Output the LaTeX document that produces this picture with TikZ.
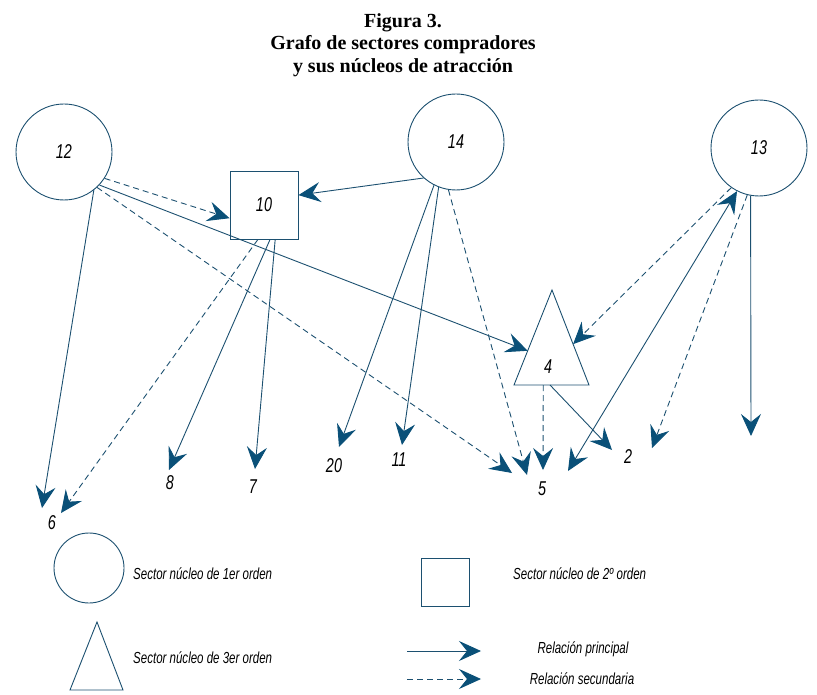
\documentclass[tikz,border=0pt]{standalone}
\usepackage{fontspec}
\setmainfont{Liberation Serif}
\newfontfamily\condfont[FakeStretch=0.72]{Liberation Sans}
\usetikzlibrary{arrows.meta,calc}
\definecolor{lb}{RGB}{28,80,112}
\definecolor{ab}{RGB}{10,80,120}
\begin{document}
\begin{tikzpicture}[x=1pt,y=-1pt,
  tipst/.style={-{Stealth[length=22pt,width=20pt,inset=8pt,color=ab]}},
  rel/.style={draw=lb, line width=0.9pt, tipst},
  sec/.style={rel, dash pattern=on 6pt off 4pt},
  both/.style={draw=lb, line width=0.9pt, {Stealth[length=22pt,width=20pt,inset=8pt,color=ab]}-{Stealth[length=22pt,width=20pt,inset=8pt,color=ab]}},
  shp/.style={draw=lb, line width=0.9pt},
  lbl/.style={font=\condfont\itshape\fontsize{20}{22}\selectfont, inner sep=0pt},
  nuc1/.style={shp, circle, minimum size=96pt, inner sep=0pt, lbl},
  nuc2/.style={shp, rectangle, minimum size=68pt, inner sep=0pt, lbl},
  ltxt/.style={font=\condfont\itshape\fontsize{16}{18}\selectfont, inner sep=0pt}
]
\useasboundingbox (0,0) rectangle (817,695);
% title
\node[font=\bfseries\fontsize{20}{22.5}\selectfont, align=center, anchor=north, inner sep=0pt] (title) at (403,13)
  {Figura 3.\\Grafo de sectores compradores\\y sus núcleos de atracción};
% main nodes
\node[nuc1] (n12) at (64,152) {12};
\node[nuc1] (n14) at (456,142) {14};
\node[nuc1] (n13) at (759,148) {13};
\node[nuc2] (n10) at (264,205) {10};
\coordinate (t4a) at (552,290);
\coordinate (t4l) at (514,385);
\coordinate (t4r) at (589,385);
\draw[shp] (t4a) -- (t4l) -- (t4r) -- cycle;
\node[lbl] (n4) at (548,367) {4};
% target labels
\node[lbl] (n6) at (52,523) {6};
\node[lbl] (n8) at (170,483) {8};
\node[lbl] (n7) at (253,487) {7};
\node[lbl] (n20) at (334,466) {20};
\node[lbl] (n11) at (399,460) {11};
\node[lbl] (n5) at (542,489) {5};
\node[lbl] (n2) at (628,457) {2};
% arrow tips
\coordinate (p6a) at (42,508);
\coordinate (p6b) at (61,513);
\coordinate (p8) at (169,470);
\coordinate (p7) at (255,469);
\coordinate (p20) at (339,447);
\coordinate (p11) at (402,445);
\coordinate (p5a) at (512,473);
\coordinate (p5b) at (527,475);
\coordinate (p5c) at (543,470);
\coordinate (p5d) at (568,471);
\coordinate (p2a) at (612,450);
\coordinate (p2b) at (652,448);
\coordinate (pv) at (751,436);
% edges
\draw[rel] (n12.-52) -- (p6a);
\draw[sec] (n12.-33) -- (n10.201);
\draw[rel] (n12.-43) -- ($(t4a)!0.64!(t4l)$);
\draw[sec] (n12.-47) -- (p5a);
\draw[rel] (n14.228) -- (n10.16);
\draw[rel] (n14.243) -- (p20);
\draw[rel] (n14.249) -- (p11);
\draw[sec] (n14.261) -- (p5b);
\draw[sec] (n10.260) -- (p6b);
\draw[rel] (n10.280) -- (p8);
\draw[rel] (n10.288) -- (p7);
\draw[sec] ($(t4l)!0.39!(t4r)$) -- (p5c);
\draw[rel] ($(t4l)!0.48!(t4r)$) -- (p2a);
\draw[sec] (n13.235) -- ($(t4a)!0.57!(t4r)$);
\draw[both] (p5d) -- (n13.243);
\draw[sec] (n13.256) -- (p2b);
\draw[rel] (n13.260) -- (pv);
% legend
\node[shp, circle, minimum size=70pt, inner sep=0pt] (l1) at (89,568) {};
\node[ltxt, anchor=west] (l1t) at (133,574) {Sector núcleo de 1er orden};
\node[shp, rectangle, minimum size=48pt, inner sep=0pt] (l2) at (445,582) {};
\node[ltxt, anchor=west] (l2t) at (513,574) {Sector núcleo de 2º orden};
\coordinate (l3a) at (97,622);
\coordinate (l3l) at (70,690);
\coordinate (l3r) at (123,690);
\draw[shp] (l3a) -- (l3l) -- (l3r) -- cycle;
\node[ltxt, anchor=west] (l3t) at (133,658) {Sector núcleo de 3er orden};
\coordinate (la1) at (407,651);
\coordinate (la2) at (481,651);
\coordinate (lb1) at (407,679);
\coordinate (lb2) at (481,679);
\draw[rel] (la1) -- (la2);
\draw[sec] (lb1) -- (lb2);
\node[ltxt] (l4t) at (583,649) {Relación principal};
\node[ltxt] (l5t) at (582,679) {Relación secundaria};
\end{tikzpicture}
\end{document}
